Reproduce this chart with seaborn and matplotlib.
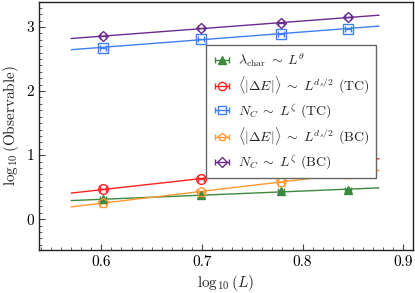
import numpy as np
import pandas as pd
import matplotlib
matplotlib.use("Agg")
import matplotlib.pyplot as plt
import seaborn as sns
from matplotlib.ticker import MultipleLocator

# ---- data ----
L_values = [4, 5, 6, 7]
lambda_char = [0.31, 0.37, 0.44, 0.46]
dE_TC = [0.47, 0.62, 0.78, 0.89]
Nc_TC = [2.68, 2.81, 2.895, 2.975]
dE_BC = [0.26, 0.42, 0.58, 0.71]
Nc_BC = [2.855, 2.985, 3.06, 3.15]

labels = [
    r"$\lambda_{\rm char}\;\sim\;L^{\theta}$",
    r"$\langle|\Delta E|\rangle\;\sim\;L^{d_s/2}$ (TC)",
    r"$N_C\;\sim\;L^{\zeta}$ (TC)",
    r"$\langle|\Delta E|\rangle\;\sim\;L^{d_s/2}$ (BC)",
    r"$N_C\;\sim\;L^{\zeta}$ (BC)",
]
colors = ["#3f883f", "#ff2222", "#3f7ff0", "#ff9933", "#6a2c91"]
markers = ["^", "o", "s", "p", "D"]
filled = [True, False, False, False, False]
msizes = [6, 7, 6.5, 7, 5.5]
series = [lambda_char, dE_TC, Nc_TC, dE_BC, Nc_BC]

sns.set_style("ticks")
plt.rcParams["font.family"] = ["serif"]
plt.rcParams["font.serif"] = ["cmr10", "DejaVu Serif"]
plt.rcParams["mathtext.fontset"] = "cm"
plt.rcParams["axes.formatter.use_mathtext"] = True
plt.rcParams["axes.unicode_minus"] = False

fig = plt.figure(figsize=(4.15, 2.93), dpi=100)
ax = fig.add_axes([0.094, 0.147, 0.9005, 0.846])

x = np.log10(L_values)
xfit = np.array([0.57, 0.876])

for vals, lab, c, m, f, ms in zip(series, labels, colors, markers, filled, msizes):
    slope, icpt = np.polyfit(x, vals, 1)
    fit_df = pd.DataFrame({"x": xfit, "y": slope * xfit + icpt})
    sns.lineplot(data=fit_df, x="x", y="y", color=c, lw=1.0, ax=ax, legend=False)
    ax.errorbar(x, vals, xerr=0.003, fmt=m, color=c, ms=ms,
                mfc=c if f else "none", mec=c, mew=1.0, capsize=2.5,
                elinewidth=1.0, label=lab, zorder=3)

ax.set_xlim(0.538, 0.9095)
ax.set_ylim(-0.48, 3.39)
ax.xaxis.set_major_locator(MultipleLocator(0.1))
ax.xaxis.set_minor_locator(MultipleLocator(0.01))
ax.yaxis.set_major_locator(MultipleLocator(1))
ax.yaxis.set_minor_locator(MultipleLocator(0.1))
ax.xaxis.set_major_formatter(matplotlib.ticker.FuncFormatter(lambda v, p: f"{v:.1f}"))
ax.yaxis.set_major_formatter(matplotlib.ticker.FuncFormatter(lambda v, p: f"{v:.0f}"))
ax.tick_params(which="both", direction="in", top=False, right=False,
               labelsize=11, colors="#444444", labelcolor="black")
ax.tick_params(which="major", length=4, width=0.8)
ax.tick_params(which="minor", length=2, width=0.6)
for s in ax.spines.values():
    s.set_visible(True)
    s.set_color("#222222")
    s.set_linewidth(1.0)

ax.set_xlabel(r"$\log_{10}(L)$", fontsize=11, labelpad=3)
ax.set_ylabel(r"$\log_{10}(\mathrm{Observable})$", fontsize=11, labelpad=4)

leg = ax.legend(loc="upper left", bbox_to_anchor=(0.446, 0.828), borderaxespad=0,
                fontsize=10, frameon=True, fancybox=False, framealpha=1,
                edgecolor="#666666", labelspacing=0.4, handlelength=1.4,
                handletextpad=0.5, borderpad=0.45, markerscale=0.85)
leg.get_frame().set_linewidth(1.0)

fig.savefig("out.png", dpi=100)
